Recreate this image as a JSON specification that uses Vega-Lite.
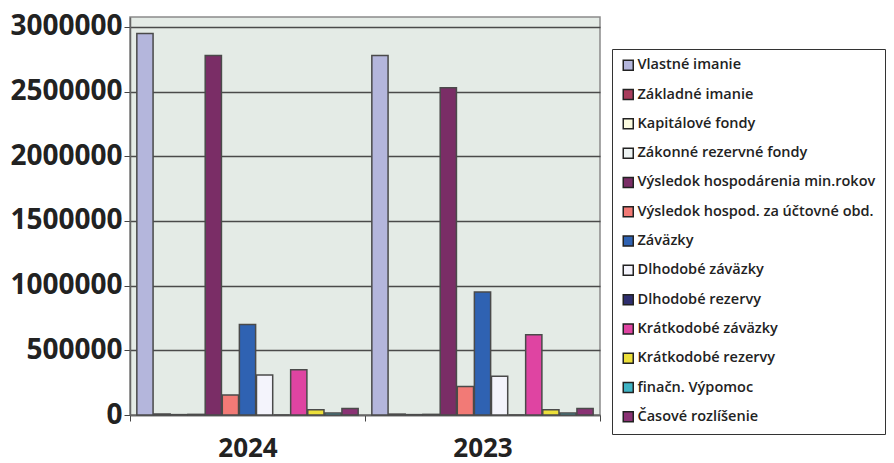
{
  "$schema": "https://vega.github.io/schema/vega-lite/v6.json",
  "autosize": {"type": "none"},
  "padding": {"left": 130, "top": 17, "right": 294, "bottom": 48},
  "width": 470,
  "height": 398,
  "background": "white",
  "config": {
    "view": {"fill": "#e4ebe6", "stroke": "#8a8a8a", "strokeWidth": 1.5},
    "font": "Open Sans"
  },
  "data": {
    "values": [
      {"rok": "2024", "polozka": "Vlastné imanie", "hodnota": 2950000},
      {"rok": "2024", "polozka": "Základné imanie", "hodnota": 7000},
      {"rok": "2024", "polozka": "Kapitálové fondy", "hodnota": 3000},
      {"rok": "2024", "polozka": "Zákonné rezervné fondy", "hodnota": 5000},
      {"rok": "2024", "polozka": "Výsledok hospodárenia min.rokov", "hodnota": 2780000},
      {"rok": "2024", "polozka": "Výsledok hospod. za účtovné obd.", "hodnota": 155000},
      {"rok": "2024", "polozka": "Záväzky", "hodnota": 700000},
      {"rok": "2024", "polozka": "Dlhodobé záväzky", "hodnota": 310000},
      {"rok": "2024", "polozka": "Dlhodobé rezervy", "hodnota": 0},
      {"rok": "2024", "polozka": "Krátkodobé záväzky", "hodnota": 350000},
      {"rok": "2024", "polozka": "Krátkodobé rezervy", "hodnota": 40000},
      {"rok": "2024", "polozka": "finačn. Výpomoc", "hodnota": 15000},
      {"rok": "2024", "polozka": "Časové rozlíšenie", "hodnota": 50000},
      {"rok": "2023", "polozka": "Vlastné imanie", "hodnota": 2780000},
      {"rok": "2023", "polozka": "Základné imanie", "hodnota": 7000},
      {"rok": "2023", "polozka": "Kapitálové fondy", "hodnota": 3000},
      {"rok": "2023", "polozka": "Zákonné rezervné fondy", "hodnota": 5000},
      {"rok": "2023", "polozka": "Výsledok hospodárenia min.rokov", "hodnota": 2530000},
      {"rok": "2023", "polozka": "Výsledok hospod. za účtovné obd.", "hodnota": 220000},
      {"rok": "2023", "polozka": "Záväzky", "hodnota": 950000},
      {"rok": "2023", "polozka": "Dlhodobé záväzky", "hodnota": 300000},
      {"rok": "2023", "polozka": "Dlhodobé rezervy", "hodnota": 0},
      {"rok": "2023", "polozka": "Krátkodobé záväzky", "hodnota": 620000},
      {"rok": "2023", "polozka": "Krátkodobé rezervy", "hodnota": 40000},
      {"rok": "2023", "polozka": "finačn. Výpomoc", "hodnota": 15000},
      {"rok": "2023", "polozka": "Časové rozlíšenie", "hodnota": 50000}
    ]
  },
  "mark": {"type": "bar", "stroke": "#4a4a4a", "strokeWidth": 1.5},
  "encoding": {
    "x": {
      "field": "rok",
      "type": "nominal",
      "sort": ["2024", "2023"],
      "scale": {"paddingInner": 0, "paddingOuter": 0},
      "axis": {
        "title": null,
        "labelAngle": 0,
        "labelFont": "Open Sans",
        "labelFontWeight": "bold",
        "labelFontSize": 26,
        "labelColor": "#222222",
        "labelPadding": 14,
        "domainColor": "#666666",
        "domainWidth": 1.5,
        "tickBand": "extent",
        "tickColor": "#444444",
        "tickSize": 6
      }
    },
    "xOffset": {
      "field": "polozka",
      "type": "nominal",
      "sort": null,
      "scale": {"paddingInner": 0.05, "paddingOuter": 0.4}
    },
    "y": {
      "field": "hodnota",
      "type": "quantitative",
      "scale": {"domain": [0, 3076923], "nice": false},
      "axis": {
        "title": null,
        "values": [0, 500000, 1000000, 1500000, 2000000, 2500000, 3000000],
        "format": "d",
        "labelFont": "Open Sans",
        "labelFontWeight": "bold",
        "labelFontSize": 28,
        "labelColor": "#222222",
        "labelPadding": 2,
        "grid": true,
        "gridColor": "#4a4a4a",
        "gridWidth": 1.5,
        "domainColor": "#666666",
        "domainWidth": 1.5,
        "tickColor": "#444444",
        "tickSize": 6
      }
    },
    "fill": {
      "field": "polozka",
      "type": "nominal",
      "sort": null,
      "scale": {
        "domain": ["Vlastné imanie", "Základné imanie", "Kapitálové fondy", "Zákonné rezervné fondy", "Výsledok hospodárenia min.rokov", "Výsledok hospod. za účtovné obd.", "Záväzky", "Dlhodobé záväzky", "Dlhodobé rezervy", "Krátkodobé záväzky", "Krátkodobé rezervy", "finačn. Výpomoc", "Časové rozlíšenie"],
        "range": ["#b4b6dc", "#a83c5c", "#fbfbe0", "#eef4f4", "#7a2d66", "#f27a76", "#2f62b2", "#f4f4fc", "#2e2e6e", "#df44a2", "#ecdf3a", "#3fb3c4", "#8a3274"]
      },
      "legend": {
        "title": null,
        "orient": "none",
        "legendX": 482,
        "legendY": 32,
        "strokeColor": "#333333",
        "fillColor": "white",
        "padding": 9,
        "symbolType": "square",
        "symbolSize": 100,
        "symbolStrokeColor": "#222222",
        "symbolStrokeWidth": 1.5,
        "labelFont": "Open Sans",
        "labelFontSize": 14.5,
        "labelFontWeight": 600,
        "labelColor": "#222222",
        "labelLimit": 400,
        "rowPadding": 12.3,
        "labelOffset": 2
      }
    }
  }
}
